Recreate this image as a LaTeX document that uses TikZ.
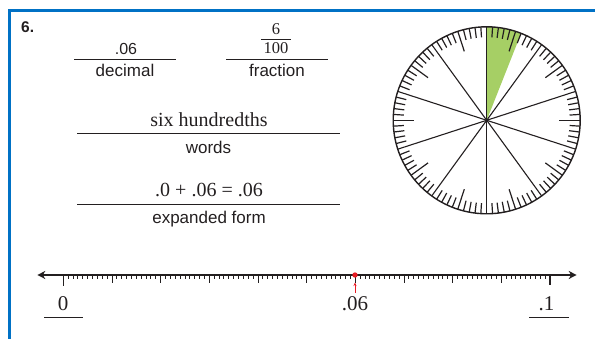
\documentclass[tikz,border=0pt]{standalone}
\usepackage{fontspec}
\setmainfont{Liberation Serif}
\setsansfont{Liberation Sans}
\usepackage{xcolor}
\usepackage{tikz}
\usetikzlibrary{arrows.meta,calc}
\definecolor{framecol}{RGB}{0,113,197}
\definecolor{wedgecol}{RGB}{166,207,101}
\definecolor{inkcol}{RGB}{35,31,32}
\definecolor{markcol}{RGB}{232,28,36}

\begin{document}
\begin{tikzpicture}[
  x=1pt, y=1pt,
  answer/.style={font=\fontsize{20}{24}\selectfont, text=inkcol, inner sep=0pt, anchor=base},
  lbl/.style={font=\sffamily\fontsize{17}{20}\selectfont, text=inkcol, inner sep=0pt, anchor=base},
  blank/.style={line width=0.9pt, draw=inkcol},
  spoke/.style={line width=1.1pt, draw=inkcol},
  dialtick/.style={line width=1.2pt, draw=inkcol},
  numline/.style={line width=1.4pt, draw=inkcol, {Stealth[length=8pt,width=8pt,inset=2.5pt]}-{Stealth[length=8pt,width=8pt,inset=2.5pt]}},
  ntick/.style={line width=0.9pt, draw=inkcol},
]
\useasboundingbox (0,0) rectangle (595,339);

% ---------- frame ----------
\draw[framecol, line width=3pt] (9,-2) -- (9,328.7) -- (600,328.7);
\node[font=\sffamily\bfseries\fontsize{15.5}{18}\selectfont, text=inkcol, inner sep=0pt, anchor=base west]
  (num) at (21,306) {6.};

% ---------- decimal / fraction ----------
\node[answer, font=\sffamily\fontsize{16}{19}\selectfont] (dec) at (126,284) {.06};
\draw[blank] (74,280) -- (176,280);
\node[lbl] (declbl) at (125,262) {decimal};

\node[answer, font=\fontsize{16.5}{19}\selectfont] (fnum) at (276,304.7) {6};
\node[answer, font=\fontsize{16.5}{19}\selectfont] (fden) at (276,285.7) {100};
\draw[line width=0.7pt, inkcol] ($(fden.north west)+(-2.5,2.5)$) -- ($(fden.north east)+(2.5,2.5)$);
\draw[blank] (226,280) -- (328,280);
\node[lbl] (fraclbl) at (277,262) {fraction};

% ---------- words ----------
\node[answer] (wrd) at (209,212.3) {six hundredths};
\draw[blank] (77,205.7) -- (340,205.7);
\node[lbl] (wrdlbl) at (208.5,185) {words};

% ---------- expanded form ----------
\node[answer] (exp) at (209,142.3) {.0 + .06 = .06};
\draw[blank] (77,134.7) -- (340,134.7);
\node[lbl] (explbl) at (209,115.5) {expanded form};

% ---------- hundredths dial ----------
\begin{scope}[shift={(486.7,218.7)}]
  \coordinate (c) at (0,0);
  \fill[wedgecol] (c) -- (90:93.5) arc[start angle=90, end angle=68.4, radius=93.5] -- cycle;
  \foreach \i in {0,...,99}{
    \pgfmathtruncatemacro\m{mod(\i,10)}
    \ifnum\m=0
      \draw[spoke] (c) -- ({90-3.6*\i}:93.5);
    \else\ifnum\m=5
      \draw[dialtick] ({90-3.6*\i}:93.5) -- ({90-3.6*\i}:72.5);
    \else
      \draw[dialtick] ({90-3.6*\i}:93.5) -- ({90-3.6*\i}:83);
    \fi\fi
  }
  \draw[line width=1.4pt, inkcol] (c) circle[radius=93.5];
\end{scope}

% ---------- number line ----------
\coordinate (nl0) at (37.3,64);
\coordinate (nl1) at (576.7,64);
\draw[numline] (nl0) -- (nl1);
\foreach \i in {1,...,99}{
  \pgfmathtruncatemacro\m{mod(\i,10)}
  \ifnum\m=0 \def\tl{8}\else\def\tl{4}\fi
  \draw[ntick] ({63.3+4.867*\i},64) -- ++(0,-\tl);
}
\draw[ntick, line width=1.1pt] (63.3,64) -- ++(0,-11.5);
\draw[ntick, line width=1.1pt] (550,64) -- ++(0,-10.5);

\node[answer, font=\fontsize{21}{25}\selectfont] (zero) at (63,28.5) {0};
\draw[blank] (44,21.3) -- (83.3,21.3);
\node[answer, font=\fontsize{21}{25}\selectfont] (mid) at (355,28.5) {.06};
\node[answer, font=\fontsize{21}{25}\selectfont] (one) at (546.5,28.5) {.1};
\draw[blank] (529,21.3) -- (569,21.3);

% ---------- marked point ----------
\fill[markcol] (355,64) circle[radius=2.7] coordinate (pt);
\coordinate (ptarr) at (355,46);
\draw[markcol, line width=0.8pt, -{Stealth[length=3.5pt,width=3pt]}] (ptarr) -- ($(pt)+(0,-7.5)$);

\end{tikzpicture}
\end{document}
